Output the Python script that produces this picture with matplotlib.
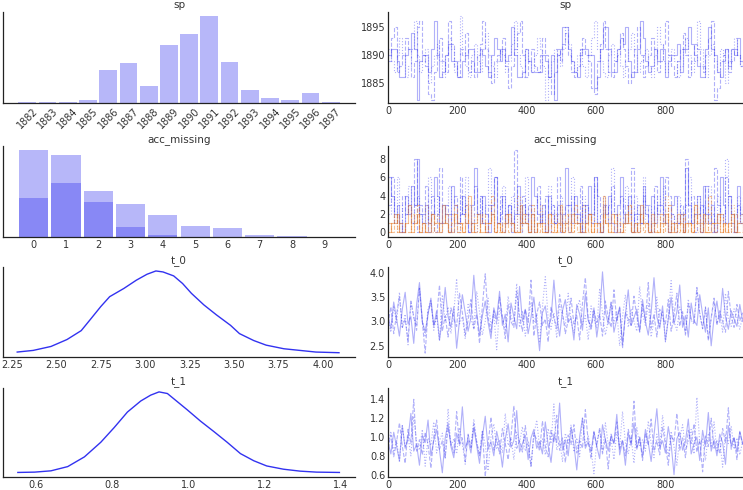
import numpy as np
import matplotlib
matplotlib.use("Agg")
import matplotlib.pyplot as plt

# colours
blue = "#3232f0"
orange = "#e8761c"
text_col = "#333333"

# ---- sp : histogram (left) ----
sp_years = [1882, 1883, 1884, 1885, 1886, 1887, 1888, 1889, 1890, 1891, 1892, 1893, 1894, 1895, 1896, 1897]
sp_counts = [3, 4, 3, 9, 100, 122, 52, 175, 209, 263, 125, 40, 16, 9, 31, 3]

# ---- acc_missing : histogram of two elements (left) ----
acc_values = [0, 1, 2, 3, 4, 5, 6, 7, 8, 9]
acc_counts_a = [261, 248, 105, 31, 7, 0, 0, 0, 0, 0]
acc_counts_b = [117, 162, 138, 98, 66, 34, 26, 6, 3, 0]

# ---- t_0 / t_1 : kde curves (left) ----
t0_grid = [2.28, 2.37, 2.47, 2.56, 2.64, 2.69, 2.75, 2.80, 2.88, 2.95, 3.01, 3.06, 3.10,
           3.16, 3.21, 3.26, 3.33, 3.40, 3.48, 3.53, 3.61, 3.68, 3.78, 3.87, 3.96, 4.09]
t0_dens = [15, 20, 32, 53, 80, 113, 153, 183, 208, 233, 251, 261, 258,
           246, 223, 193, 158, 128, 96, 71, 50, 36, 25, 20, 15, 13]
t1_grid = [0.552, 0.596, 0.639, 0.683, 0.727, 0.770, 0.805, 0.840, 0.875, 0.901, 0.923, 0.945,
           0.971, 0.997, 1.032, 1.067, 1.102, 1.137, 1.172, 1.206, 1.250, 1.294, 1.337, 1.397]
t1_dens = [14, 15, 19, 32, 62, 107, 152, 200, 234, 252, 262, 257,
           232, 207, 172, 140, 107, 72, 50, 34, 24, 18, 15, 14]

# ---- traces (right), three chains each ----
sp_chain1 = [1890, 1891, 1891, 1889, 1886, 1886, 1890, 1891, 1894, 1891, 1882, 1889, 1890, 1890, 1887, 1891, 1896, 1890, 1886, 1887,
             1890, 1892, 1889, 1889, 1886, 1886, 1889, 1890, 1891, 1891, 1887, 1887, 1891, 1890, 1888, 1886, 1890, 1893, 1891, 1889,
             1891, 1889, 1890, 1895, 1890, 1886, 1886, 1887, 1891, 1889, 1887, 1887, 1887, 1887, 1890, 1889, 1886, 1890, 1882, 1890,
             1891, 1895, 1895, 1891, 1889, 1887, 1886, 1890, 1891, 1891, 1890, 1890, 1884, 1886, 1891, 1895, 1895, 1891, 1887, 1887,
             1891, 1893, 1892, 1895, 1889, 1886, 1887, 1891, 1896, 1893, 1889, 1887, 1888, 1891, 1889, 1891, 1891, 1886, 1889, 1890,
             1890, 1892, 1887, 1891, 1891, 1895, 1892, 1890, 1888, 1886, 1886, 1891, 1895, 1891, 1890, 1887, 1886, 1889, 1891, 1888,
             1891, 1890, 1893, 1889, 1888]
sp_chain2 = [1889, 1893, 1895, 1887, 1888, 1890, 1893, 1891, 1886, 1889, 1895, 1896, 1890, 1888, 1883, 1882, 1887, 1890, 1893, 1889,
             1887, 1896, 1892, 1888, 1886, 1891, 1890, 1894, 1887, 1889, 1886, 1890, 1892, 1896, 1891, 1887, 1885, 1889, 1890, 1891,
             1893, 1888, 1884, 1888, 1891, 1894, 1896, 1890, 1886, 1889, 1891, 1888, 1887, 1890, 1893, 1890, 1886, 1883, 1887, 1891,
             1889, 1892, 1894, 1890, 1887, 1886, 1888, 1891, 1893, 1890, 1889, 1884, 1883, 1889, 1892, 1896, 1891, 1887, 1886, 1889,
             1890, 1894, 1891, 1888, 1885, 1887, 1891, 1895, 1890, 1886, 1888, 1890, 1893, 1891, 1887, 1889, 1892, 1896, 1890, 1888,
             1886, 1889, 1891, 1894, 1890, 1886, 1889, 1892, 1891, 1888, 1887, 1890, 1893, 1896, 1882, 1884, 1889, 1890, 1891, 1887,
             1889, 1891, 1890, 1888, 1889]
sp_chain3 = [1891, 1889, 1887, 1890, 1893, 1890, 1886, 1888, 1891, 1896, 1890, 1887, 1889, 1891, 1885, 1888, 1890, 1892, 1889, 1886,
             1890, 1893, 1891, 1887, 1889, 1897, 1891, 1888, 1886, 1890, 1892, 1889, 1887, 1891, 1894, 1890, 1888, 1886, 1889, 1891,
             1890, 1887, 1889, 1892, 1896, 1890, 1888, 1886, 1891, 1889, 1887, 1890, 1893, 1891, 1888, 1882, 1886, 1889, 1891, 1890,
             1888, 1891, 1895, 1892, 1889, 1887, 1890, 1891, 1888, 1886, 1890, 1893, 1896, 1891, 1889, 1887, 1886, 1890, 1892, 1889,
             1891, 1888, 1886, 1889, 1891, 1894, 1890, 1887, 1889, 1890, 1891, 1888, 1886, 1890, 1895, 1892, 1889, 1887, 1890, 1891,
             1889, 1886, 1888, 1891, 1893, 1890, 1887, 1889, 1896, 1891, 1888, 1886, 1890, 1892, 1889, 1887, 1891, 1890, 1885, 1889,
             1891, 1893, 1890, 1888, 1890]

accb_chain1 = [6, 4, 2, 3, 1, 0, 4, 2, 5, 3, 8, 2, 1, 3, 0, 2, 6, 4, 1, 3,
               2, 0, 5, 3, 1, 2, 4, 1, 0, 3, 7, 2, 1, 4, 2, 0, 3, 6, 1, 2,
               4, 1, 3, 0, 2, 5, 1, 3, 2, 0, 6, 4, 2, 1, 3, 0, 4, 2, 1, 3,
               0, 2, 7, 3, 1, 4, 2, 0, 3, 1, 5, 2, 6, 1, 0, 3, 2, 4, 1, 0,
               3, 6, 2, 1, 4, 0, 2, 3, 1, 5, 2, 0, 4, 1, 3, 6, 2, 1, 0, 3,
               4, 1, 2, 0, 7, 3, 1, 2, 4, 0, 5, 2, 1, 3, 0, 2, 6, 3, 1, 4,
               2, 0, 5, 1, 3]
accb_chain2 = [3, 6, 1, 2, 0, 4, 2, 3, 1, 8, 0, 3, 2, 5, 1, 4, 0, 2, 7, 1,
               3, 2, 0, 4, 1, 6, 2, 3, 0, 1, 5, 2, 4, 1, 0, 3, 2, 6, 1, 4,
               0, 2, 3, 1, 9, 2, 0, 4, 1, 3, 2, 0, 5, 1, 2, 4, 0, 3, 1, 6,
               2, 1, 3, 0, 4, 2, 1, 5, 0, 3, 2, 1, 6, 4, 0, 2, 3, 1, 5, 2,
               0, 4, 1, 3, 2, 7, 0, 2, 1, 4, 3, 1, 0, 5, 2, 3, 1, 6, 4, 2,
               0, 1, 3, 2, 8, 1, 4, 0, 2, 3, 1, 5, 2, 0, 7, 3, 1, 2, 6, 4,
               1, 0, 3, 2, 5]
accb_chain3 = [2, 4, 1, 6, 3, 0, 2, 5, 1, 3, 4, 2, 0, 1, 6, 3, 2, 4, 0, 1,
               3, 5, 2, 1, 0, 4, 2, 6, 3, 1, 0, 2, 4, 1, 3, 7, 2, 0, 1, 3,
               5, 2, 1, 4, 0, 3, 2, 1, 6, 2, 0, 3, 4, 1, 2, 0, 5, 3, 1, 2,
               4, 0, 1, 3, 6, 2, 1, 0, 4, 3, 2, 1, 5, 0, 2, 4, 1, 3, 7, 2,
               1, 0, 3, 5, 2, 1, 4, 0, 2, 6, 1, 3, 0, 2, 4, 1, 5, 3, 0, 2,
               1, 4, 2, 0, 3, 6, 1, 2, 4, 0, 3, 1, 5, 2, 0, 4, 2, 1, 8, 3,
               0, 2, 4, 1, 3]
acca_chain1 = [0, 1, 1, 2, 0, 0, 1, 3, 0, 1, 2, 0, 1, 0, 0, 2, 1, 1, 0, 3,
               1, 0, 0, 2, 1, 1, 0, 1, 4, 0, 1, 2, 0, 0, 1, 1, 2, 0, 1, 0,
               0, 1, 2, 1, 0, 0, 3, 1, 1, 0, 2, 0, 1, 1, 0, 0, 2, 1, 0, 1,
               3, 0, 1, 0, 2, 1, 1, 0, 0, 1, 2, 0, 1, 1, 0, 4, 1, 0, 2, 1,
               0, 0, 1, 2, 1, 0, 1, 0, 3, 1, 1, 0, 2, 0, 0, 1, 1, 2, 0, 1,
               0, 2, 1, 0, 1, 1, 0, 3, 1, 0, 2, 0, 0, 1, 1, 2, 0, 1, 0, 1,
               2, 0, 1, 1, 0]
acca_chain2 = [1, 0, 2, 0, 1, 1, 0, 0, 2, 1, 3, 0, 1, 0, 1, 2, 0, 0, 1, 1,
               2, 0, 1, 3, 0, 1, 0, 2, 1, 1, 0, 0, 1, 2, 0, 1, 4, 0, 1, 0,
               1, 2, 0, 1, 0, 0, 1, 2, 1, 0, 3, 1, 0, 1, 1, 0, 2, 0, 0, 1,
               0, 1, 2, 1, 0, 3, 0, 1, 1, 0, 2, 0, 1, 0, 1, 2, 1, 0, 0, 2,
               1, 0, 1, 1, 3, 0, 0, 1, 2, 0, 1, 0, 1, 1, 0, 2, 0, 1, 3, 0,
               1, 1, 0, 2, 0, 1, 0, 1, 2, 1, 0, 0, 4, 1, 0, 1, 2, 0, 1, 0,
               1, 2, 0, 0, 1]
acca_chain3 = [0, 1, 2, 0, 1, 0, 1, 1, 0, 2, 1, 0, 0, 3, 1, 0, 1, 2, 0, 1,
               1, 0, 2, 1, 0, 0, 1, 3, 1, 0, 2, 0, 1, 1, 0, 1, 2, 0, 0, 1,
               0, 2, 1, 1, 0, 4, 0, 1, 2, 0, 1, 0, 1, 3, 0, 1, 1, 0, 2, 0,
               1, 0, 1, 2, 0, 1, 1, 0, 3, 1, 0, 2, 0, 1, 0, 1, 2, 1, 0, 0,
               2, 1, 0, 1, 3, 0, 1, 0, 2, 1, 1, 0, 0, 1, 2, 0, 1, 4, 0, 1,
               1, 0, 2, 0, 1, 1, 0, 3, 0, 1, 2, 1, 0, 0, 1, 2, 0, 1, 1, 0,
               3, 0, 1, 2, 0]

t0_chain1 = [3.12, 2.85, 3.40, 3.05, 2.70, 3.25, 3.60, 2.95, 3.10, 2.55, 3.35, 3.80, 3.00, 2.78, 3.15, 3.48, 2.90, 3.22, 2.62, 3.05,
             3.70, 3.10, 2.88, 3.30, 2.45, 3.02, 3.55, 3.18, 2.80, 3.08, 3.95, 3.20, 2.72, 3.12, 3.42, 2.98, 2.65, 3.28, 3.05, 3.62,
             2.92, 3.15, 2.58, 3.38, 3.10, 2.85, 3.72, 3.00, 3.25, 2.75, 3.08, 3.50, 2.95, 2.40, 3.18, 3.32, 2.88, 3.05, 3.85, 3.12,
             2.70, 3.22, 3.45, 2.98, 3.08, 2.62, 3.35, 3.15, 2.82, 3.58, 3.02, 2.90, 3.28, 2.68, 3.12, 4.02, 3.20, 2.95, 3.40, 2.78,
             3.05, 3.30, 2.52, 3.15, 3.65, 2.92, 3.08, 3.25, 2.80, 3.45, 3.00, 2.72, 3.18, 3.90, 3.10, 2.86, 3.32, 2.60, 3.05, 3.50,
             2.95, 3.20, 3.75, 2.88, 3.12, 2.68, 3.38, 3.02, 2.92, 3.55, 3.15, 2.78, 3.28, 2.50, 3.08, 3.42, 2.98, 3.68, 3.10, 2.84,
             3.22, 3.05, 2.90, 3.35, 3.00]
t0_chain2 = [2.95, 3.30, 2.75, 3.15, 3.52, 2.88, 3.05, 2.60, 3.42, 3.10, 2.82, 3.68, 3.00, 2.35, 3.20, 3.38, 2.92, 3.08, 3.75, 2.80,
             3.12, 2.68, 3.28, 3.05, 2.90, 3.58, 3.18, 2.72, 3.02, 3.45, 2.85, 3.15, 2.55, 3.32, 3.98, 3.08, 2.78, 3.22, 2.95, 3.50,
             3.10, 2.65, 3.35, 3.00, 2.88, 3.62, 3.12, 2.80, 3.25, 2.98, 3.85, 2.70, 3.15, 3.40, 2.92, 3.05, 2.58, 3.30, 3.08, 2.85,
             3.55, 3.20, 2.75, 3.02, 3.48, 2.95, 3.12, 2.62, 3.38, 3.90, 3.05, 2.82, 3.22, 2.98, 3.15, 2.70, 3.42, 3.08, 2.88, 3.65,
             3.00, 3.28, 2.45, 3.18, 3.05, 2.92, 3.52, 3.10, 2.78, 3.35, 3.02, 3.80, 2.86, 3.15, 2.68, 3.25, 3.08, 2.95, 3.45, 2.80,
             3.12, 3.58, 2.90, 3.20, 2.72, 3.38, 3.05, 2.98, 3.70, 3.15, 2.85, 3.30, 2.60, 3.08, 3.48, 2.92, 3.22, 3.00, 2.78, 3.62,
             3.10, 2.88, 3.35, 3.02, 3.18]
t0_chain3 = [3.05, 2.78, 3.32, 2.98, 3.60, 2.86, 3.15, 2.52, 3.40, 3.08, 2.92, 3.70, 3.02, 2.68, 3.25, 3.45, 2.82, 3.12, 2.60, 3.55,
             3.00, 3.30, 2.75, 3.18, 3.88, 2.95, 3.10, 2.64, 3.35, 3.05, 2.85, 3.62, 3.20, 2.72, 3.00, 3.48, 2.90, 3.15, 2.42, 3.28,
             3.08, 2.80, 3.52, 3.12, 2.95, 3.78, 2.88, 3.22, 2.70, 3.02, 3.40, 2.98, 3.15, 2.56, 3.30, 3.92, 3.05, 2.84, 3.18, 2.66,
             3.36, 3.10, 2.90, 3.58, 3.00, 2.76, 3.24, 3.45, 2.94, 3.12, 2.62, 3.32, 3.06, 2.86, 3.68, 3.16, 2.72, 3.02, 3.40, 2.96,
             3.20, 2.50, 3.10, 3.55, 2.88, 3.26, 3.00, 2.80, 3.72, 3.14, 2.92, 3.38, 2.68, 3.04, 3.50, 2.90, 3.22, 2.58, 3.08, 3.84,
             3.00, 2.82, 3.30, 3.12, 2.74, 3.46, 3.02, 2.94, 3.64, 3.18, 2.86, 3.28, 2.64, 3.06, 3.42, 2.96, 3.16, 2.78, 3.58, 3.04,
             2.90, 3.26, 3.08, 2.84, 3.12]

t1_chain1 = [0.95, 0.82, 1.05, 0.90, 0.75, 1.12, 0.88, 0.98, 1.25, 0.85, 0.92, 0.70, 1.02, 0.94, 1.18, 0.80, 0.96, 1.08, 0.86, 0.62,
             0.99, 1.15, 0.90, 0.78, 1.04, 0.93, 1.32, 0.88, 0.97, 0.83, 1.10, 0.91, 0.72, 1.00, 1.22, 0.87, 0.95, 0.80, 1.06, 0.92,
             0.68, 0.98, 1.14, 0.89, 0.96, 1.28, 0.84, 0.93, 1.02, 0.76, 0.99, 1.08, 0.88, 0.95, 0.82, 1.16, 0.91, 0.73, 1.03, 0.94,
             1.36, 0.86, 0.97, 0.80, 1.10, 0.92, 0.65, 1.00, 1.20, 0.88, 0.95, 0.84, 1.06, 0.90, 0.77, 1.13, 0.97, 0.85, 1.01, 0.93,
             1.24, 0.81, 0.96, 0.70, 1.04, 0.91, 1.15, 0.87, 0.99, 0.79, 1.08, 0.94, 0.74, 1.02, 1.30, 0.89, 0.96, 0.83, 1.11, 0.92,
             0.60, 0.98, 1.05, 0.86, 0.95, 1.19, 0.82, 0.93, 1.00, 0.75, 1.07, 0.90, 1.26, 0.85, 0.97, 0.80, 1.03, 0.94, 0.71, 1.12,
             0.91, 0.99, 0.84, 1.06, 0.93]
t1_chain2 = [0.88, 1.02, 0.79, 0.95, 1.15, 0.90, 0.72, 1.08, 0.93, 1.40, 0.85, 0.97, 0.81, 1.05, 0.92, 0.67, 1.00, 1.18, 0.87, 0.96,
             0.78, 1.10, 0.94, 0.83, 1.27, 0.91, 0.99, 0.74, 1.03, 0.89, 1.14, 0.95, 0.80, 1.06, 0.58, 0.92, 1.21, 0.86, 0.98, 0.82,
             1.09, 0.93, 0.76, 1.01, 1.33, 0.88, 0.96, 0.84, 1.12, 0.91, 0.69, 1.04, 0.97, 0.85, 1.17, 0.90, 0.79, 1.07, 0.94, 1.23,
             0.86, 0.99, 0.73, 1.02, 0.92, 1.13, 0.83, 0.96, 0.88, 1.29, 0.95, 0.77, 1.05, 0.90, 1.10, 0.82, 0.98, 0.66, 1.03, 0.93,
             1.16, 0.87, 0.97, 0.80, 1.08, 0.94, 1.38, 0.89, 1.00, 0.75, 1.04, 0.91, 1.19, 0.85, 0.96, 0.81, 1.11, 0.92, 0.70, 1.02,
             0.95, 1.25, 0.86, 0.99, 0.78, 1.07, 0.93, 1.14, 0.84, 0.97, 0.63, 1.01, 0.90, 1.20, 0.88, 0.96, 0.82, 1.09, 0.94, 1.31,
             0.87, 1.00, 0.76, 1.05, 0.92]
t1_chain3 = [0.92, 1.06, 0.84, 0.97, 0.73, 1.12, 0.89, 1.01, 0.80, 1.22, 0.94, 0.86, 1.08, 0.69, 0.99, 0.91, 1.16, 0.83, 0.96, 1.04,
             0.77, 1.30, 0.90, 0.98, 0.82, 1.10, 0.93, 0.71, 1.03, 0.88, 1.19, 0.95, 0.80, 1.07, 0.92, 0.64, 1.00, 1.14, 0.87, 0.97,
             0.83, 1.25, 0.91, 0.99, 0.76, 1.05, 0.94, 1.11, 0.85, 0.96, 0.68, 1.02, 1.18, 0.89, 0.98, 0.81, 1.09, 0.93, 1.35, 0.86,
             0.97, 0.74, 1.04, 0.92, 1.13, 0.84, 0.99, 0.79, 1.21, 0.90, 1.01, 0.87, 0.61, 0.95, 1.07, 0.83, 1.15, 0.92, 0.98, 0.76,
             1.05, 0.89, 1.27, 0.94, 0.82, 1.00, 0.72, 1.10, 0.91, 0.97, 0.85, 1.17, 0.93, 0.78, 1.03, 0.88, 1.23, 0.96, 0.80, 1.06,
             0.90, 0.70, 0.99, 1.13, 0.86, 0.95, 1.08, 0.82, 1.42, 0.92, 0.98, 0.75, 1.04, 0.89, 1.16, 0.84, 0.97, 0.68, 1.02, 0.93,
             1.11, 0.87, 0.99, 0.81, 0.95]

n_draws = 1024
chain_styles = ['-', '--', ':']

plt.rcParams['font.family'] = ['DejaVu Sans']
plt.rcParams['font.size'] = 7

fig = plt.figure(figsize=(7.43, 4.90), dpi=100)

W, H = 743.0, 490.0

def make_axes(left, top, right, bottom):
    return fig.add_axes([left / W, 1 - bottom / H, (right - left) / W, (bottom - top) / H])

rows = [(12, 103), (146, 237), (267, 357), (388, 477)]
left_axes = [make_axes(3, t, 355, b) for t, b in rows]
right_axes = [make_axes(388, t, 743, b) for t, b in rows]

def style(ax, title):
    for side in ['top', 'right']:
        ax.spines[side].set_visible(False)
    for side in ['left', 'bottom']:
        ax.spines[side].set_color('#222222')
        ax.spines[side].set_linewidth(0.9)
    ax.tick_params(length=0, pad=2, labelsize=7, colors=text_col)
    ax.set_title(title, fontsize=7.5, color=text_col, pad=3)

def plot_chains(ax, chains, color, steps=False, alpha=0.38):
    for values, ls in zip(chains, chain_styles):
        x = np.linspace(0, n_draws - 1, len(values))
        ax.plot(x, values, color=color, alpha=alpha, lw=0.8, ls=ls,
                drawstyle='steps-post' if steps else 'default')

# sp
ax = left_axes[0]
ax.bar(sp_years, sp_counts, width=0.88, color=blue, alpha=0.35, edgecolor='none')
ax.set_xticks(sp_years)
ax.set_xticklabels([str(y) for y in sp_years], rotation=45)
ax.set_yticks([])
ax.set_xlim(1880.8, 1898.2)
ax.set_ylim(0, 275)
style(ax, 'sp')

ax = right_axes[0]
plot_chains(ax, [sp_chain1, sp_chain2, sp_chain3], blue, steps=True)
ax.set_ylim(1881.4, 1897.7)
ax.set_yticks([1885, 1890, 1895])
style(ax, 'sp')

# acc_missing
ax = left_axes[1]
ax.bar(acc_values, acc_counts_a, width=0.9, color=blue, alpha=0.35, edgecolor='none')
ax.bar(acc_values, acc_counts_b, width=0.9, color=blue, alpha=0.35, edgecolor='none')
ax.set_xticks(acc_values)
ax.set_yticks([])
ax.set_xlim(-0.95, 9.95)
ax.set_ylim(0, 274)
style(ax, 'acc_missing')

ax = right_axes[1]
plot_chains(ax, [accb_chain1, accb_chain2, accb_chain3], blue, steps=True)
plot_chains(ax, [acca_chain1, acca_chain2, acca_chain3], orange, steps=True, alpha=0.45)
ax.set_ylim(-0.5, 9.4)
ax.set_yticks([0, 2, 4, 6, 8])
style(ax, 'acc_missing')

# t_0
ax = left_axes[2]
ax.plot(t0_grid, t0_dens, color=blue, lw=1.0)
ax.set_xticks([2.25, 2.50, 2.75, 3.00, 3.25, 3.50, 3.75, 4.00])
ax.set_xticklabels(['2.25', '2.50', '2.75', '3.00', '3.25', '3.50', '3.75', '4.00'])
ax.set_yticks([])
ax.set_xlim(2.20, 4.18)
ax.set_ylim(0, 273)
style(ax, 't_0')

ax = right_axes[2]
plot_chains(ax, [t0_chain1, t0_chain2, t0_chain3], blue)
ax.set_ylim(2.27, 4.12)
ax.set_yticks([2.5, 3.0, 3.5, 4.0])
style(ax, 't_0')

# t_1
ax = left_axes[3]
ax.plot(t1_grid, t1_dens, color=blue, lw=1.0)
ax.set_xticks([0.6, 0.8, 1.0, 1.2, 1.4])
ax.set_yticks([])
ax.set_xlim(0.513, 1.438)
ax.set_ylim(0, 274)
style(ax, 't_1')

ax = right_axes[3]
plot_chains(ax, [t1_chain1, t1_chain2, t1_chain3], blue)
ax.set_ylim(0.575, 1.52)
ax.set_yticks([0.6, 0.8, 1.0, 1.2, 1.4])
style(ax, 't_1')

for ax in right_axes:
    ax.set_xlim(0, n_draws)
    ax.set_xticks([0, 200, 400, 600, 800])

fig.savefig('out.png', dpi=100)
